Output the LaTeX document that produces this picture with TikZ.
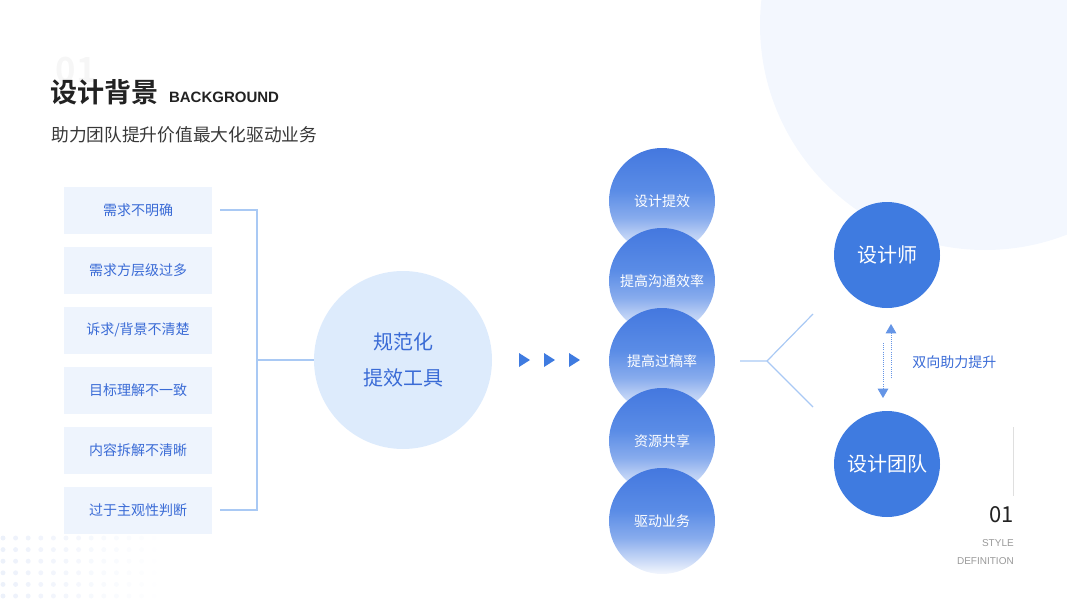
\documentclass[tikz,border=0pt]{standalone}
\usepackage{fontspec}
\setmainfont{Noto Sans CJK SC}[BoldFont={Noto Sans CJK SC Bold}]
\newfontfamily\latinsans{Liberation Sans}
\usetikzlibrary{positioning,arrows.meta}

\definecolor{mainblue}{HTML}{3F7BE0}
\definecolor{textblue}{HTML}{3A6BD6}
\definecolor{boxfill}{HTML}{EEF4FD}
\definecolor{toolfill}{HTML}{DDEBFC}
\definecolor{linkblue}{HTML}{A9C9F4}
\definecolor{bgblue}{HTML}{F3F7FE}
\definecolor{topblue}{HTML}{4478DF}
\definecolor{midblue}{HTML}{5A8CE6}
\definecolor{lowblue}{HTML}{F3F6FD}
\definecolor{dotblue}{HTML}{D5E0F5}
\definecolor{darktext}{HTML}{222222}

\pgfdeclareverticalshading{fadeblue}{100bp}{
  color(0bp)=(lowblue); color(25bp)=(lowblue); color(42bp)=(midblue!70!lowblue);
  color(55bp)=(midblue); color(75bp)=(topblue); color(100bp)=(topblue)}

\newcommand{\fsz}[1]{\fontsize{#1}{#1}\selectfont}

\tikzset{
  problem/.style={fill=boxfill, text=textblue, minimum width=111pt, minimum height=35.25pt,
    inner sep=0pt, outer sep=0pt, font=\fsz{10.5pt}},
  link/.style={linkblue, line width=0.9pt},
  colcircle/.style={circle, minimum size=79.5pt, inner sep=0pt, outer sep=0pt,
    shading=fadeblue, text=white, font=\fsz{10.5pt}},
  rolecircle/.style={circle, fill=mainblue, minimum size=79.5pt, inner sep=0pt,
    text=white, font=\fsz{15pt}},
  pointer/.style={mainblue, fill=mainblue},
  swap/.style={mainblue!80, line width=0.6pt, densely dotted, -{Triangle[length=7pt,width=8pt]}}
}

\begin{document}
\begin{tikzpicture}[x=0.75pt, y=-0.75pt]
\useasboundingbox (0,0) rectangle (1067,600);
\begin{scope}
\clip (0,0) rectangle (1067,600);
% background decor
\fill[bgblue] (985,25) circle (225);
\foreach \x [evaluate=\x as \op using {0.45*(1-\x/13)}] in {0,...,12}
  \foreach \y in {0,...,5}
    \fill[dotblue, opacity=\op] (3+12.6*\x, 538+11.6*\y) circle (2.5);
\end{scope}

% heading
\node[text=gray!7, font=\fsz{26pt}\bfseries] (ghost) at (76,70) {01};
\node[anchor=west, inner sep=0pt, text=darktext, font=\fsz{20.3pt}\bfseries] (title) at (50,92) {设计背景};
\node[anchor=base west, inner sep=0pt, text=darktext, font=\latinsans\fsz{11.25pt}\bfseries]
  (titleen) at ([xshift=7.5pt]title.base east) {BACKGROUND};
\node[anchor=west, inner sep=0pt, text=darktext!90, font=\fsz{13.3pt}] (subtitle) at (51,135)
  {助力团队提升价值最大化驱动业务};

% problems
\node[problem] (b1) at (138,210) {需求不明确};
\node[problem, below=9.75pt of b1] (b2) {需求方层级过多};
\node[problem, below=9.75pt of b2] (b3) {诉求/背景不清楚};
\node[problem, below=9.75pt of b3] (b4) {目标理解不一致};
\node[problem, below=9.75pt of b4] (b5) {内容拆解不清晰};
\node[problem, below=9.75pt of b5] (b6) {过于主观性判断};

% tool
\node[circle, fill=toolfill, minimum size=133.5pt, inner sep=0pt, text=textblue,
  align=center, font=\fsz{15pt}] (tool) at (403,360)
  {规范化\\[12pt]提效工具};

\coordinate (jn) at (257,360);
\draw[link] ([xshift=6pt]b1.east) -| (jn);
\draw[link] ([xshift=6pt]b6.east) -| (jn);
\draw[link] (jn) -- (tool.west);

% flow triangles
\foreach \x in {524,549,574}
  \fill[pointer] (\x-5,353) -- (\x+6,360) -- (\x-5,367) -- cycle;

% outcomes
\foreach \i/\t in {1/设计提效,2/提高沟通效率,3/提高过稿率,4/资源共享,5/驱动业务}
  \node[colcircle] (c\i) at (662,121+80*\i) {\t};

% roles
\node[rolecircle] (des) at (887,255) {设计师};
\node[rolecircle] (team) at (887,464) {设计团队};

\coordinate (fork) at (767,361);
\coordinate (fu) at (813,314);
\coordinate (fd) at (813,407);
\draw[link] ([xshift=18.75pt]c3.east) -- (fork) -- (fu);
\draw[link] (fork) -- (fd);

\coordinate (upS) at (891,378);
\coordinate (upE) at (891,324);
\coordinate (dnS) at (883,343);
\coordinate (dnE) at (883,398);
\draw[swap] (upS) -- (upE);
\draw[swap] (dnS) -- (dnE);
\node[anchor=west, inner sep=0pt, text=textblue, font=\fsz{10.5pt}] (mutual) at (912,362) {双向助力提升};

% page mark
\draw[gray!25, line width=0.6pt] (1013,427) -- (1013,496);
\node[anchor=east, inner sep=0pt, text=darktext, font=\fsz{16.5pt}] (pgno) at (1014,515) {01};
\node[anchor=east, inner sep=0pt, text=gray!80, font=\latinsans\fsz{7.5pt}] (sty) at (1014,543) {STYLE};
\node[anchor=east, inner sep=0pt, text=gray!80, font=\latinsans\fsz{7.5pt}] (defn) at (1014,561) {DEFINITION};
\end{tikzpicture}
\end{document}
